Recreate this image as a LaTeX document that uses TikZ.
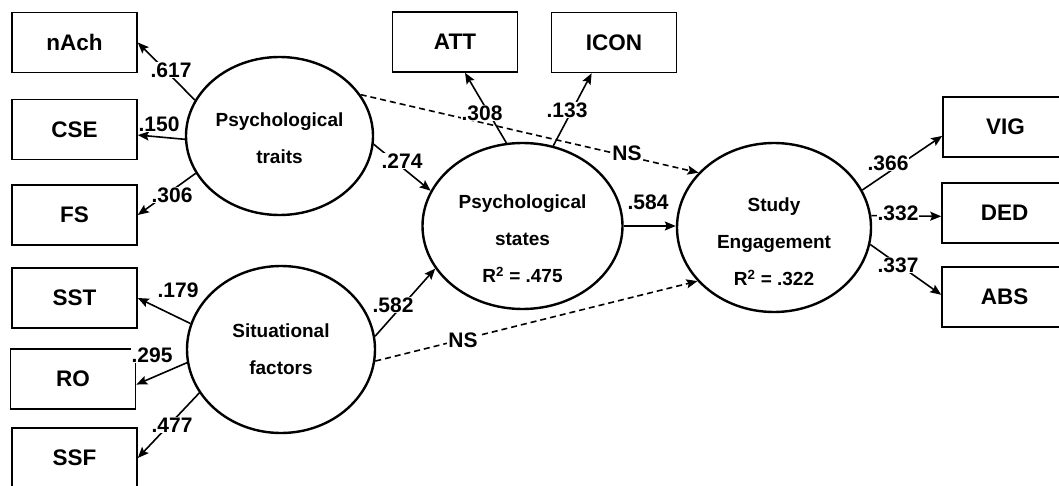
\documentclass[tikz,border=0pt]{standalone}
\usepackage{fontspec}
\setmainfont{Liberation Sans}
\usetikzlibrary{arrows.meta,shapes.geometric,calc}
\begin{document}
\begin{tikzpicture}[x=1pt,y=-1pt,
 box/.style={draw, line width=1.6pt, minimum width=125pt, minimum height=60pt, font=\fontsize{22.5}{27}\selectfont\bfseries, inner sep=0pt},
 latent/.style={draw, ellipse, line width=2.4pt, inner sep=0pt},
 etext/.style={font=\fontsize{19}{37}\selectfont\bfseries, align=center},
 lab/.style={fill=white, inner sep=1pt, font=\fontsize{21}{24}\selectfont\bfseries},
 arr/.style={line width=1.6pt, -{Stealth[length=11pt,width=9pt,inset=2pt]}},
 dsh/.style={arr, dash pattern=on 6pt off 4pt}
]
\useasboundingbox (0,0) rectangle (1059,486);
\clip (0,0) rectangle (1059,486);
\fill[white] (0,0) rectangle (1059,486);

% indicator boxes
\node[box] (nach) at (74.5,42.5) {nAch};
\node[box] (cse) at (74.5,129.5) {CSE};
\node[box] (fs) at (74.5,215) {FS};
\node[box] (sst) at (74.5,298) {SST};
\node[box] (ro) at (73,379) {RO};
\node[box] (ssf) at (74.5,458) {SSF};
\node[box] (att) at (455,42) {ATT};
\node[box] (icon) at (614,42.5) {ICON};
\node[box] (vig) at (1005.5,127) {VIG};
\node[box] (ded) at (1004.5,213) {DED};
\node[box] (abs) at (1004.5,297) {ABS};

% latent variables
\node[latent, minimum width=187pt, minimum height=158pt,
  label={[etext,yshift=-2pt]center:Psychological\\traits}] (pt) at (279.5,136) {};
\node[latent, minimum width=188pt, minimum height=167pt,
  label={[etext]center:Situational\\factors}] (sf) at (281,349.5) {};
\node[latent, minimum width=200pt, minimum height=166pt,
  label={[etext,yshift=-13pt]center:Psychological\\states\\R\textsuperscript{2} = .475}] (ps) at (522.5,226) {};
\node[latent, minimum width=194pt, minimum height=169pt,
  label={[etext,yshift=-14pt]center:Study\\Engagement\\R\textsuperscript{2} = .322}] (se) at (774,227.5) {};

% connectors
\draw[arr] (pt.157) -- (nach.east);
\draw[arr] (pt.182) -- (cse.-5);
\draw[arr] (pt.204) -- (fs.east);
\draw[arr] (sf.164) -- (sst.east);
\draw[arr] (sf.188) -- (ro.-5);
\draw[arr] (sf.208) -- (ssf.east);
\draw[arr] (pt.355) -- (ps.159);
\draw[arr] (sf.8) -- (ps.206);
\draw[arr] (ps.101) -- (att.-72);
\draw[arr] (ps.69) -- (icon.-126);
\draw[dsh] (pt.27) -- (se.144);
\draw[dsh] (sf.353) -- (se.215);
\draw[arr] (ps.east) -- (ps.east -| se.west);
\draw[arr] (se.23) -- (vig.188);
\draw[arr] (se.7) -- (ded.183);
\draw[arr] (se.350) -- (abs.178);

% coefficient labels
\node[lab] (l617) at (171,70) {.617};
\node[lab] (l150) at (159,124) {.150};
\node[lab] (l306) at (172,195) {.306};
\node[lab] (l179) at (178,290) {.179};
\node[lab] (l295) at (152,355) {.295};
\node[lab] (l477) at (172,425) {.477};
\node[lab] (l274) at (402,161) {.274};
\node[lab] (l582) at (393,305) {.582};
\node[lab] (l308) at (482,113) {.308};
\node[lab] (l133) at (567,110) {.133};
\node[lab] (lns1) at (627,153) {NS};
\node[lab] (lns2) at (463,340) {NS};
\node[lab] (l584) at (648,202) {.584};
\node[lab] (l366) at (888,163) {.366};
\node[lab] (l332) at (898,213) {.332};
\node[lab] (l337) at (898,265) {.337};
\end{tikzpicture}
\end{document}
